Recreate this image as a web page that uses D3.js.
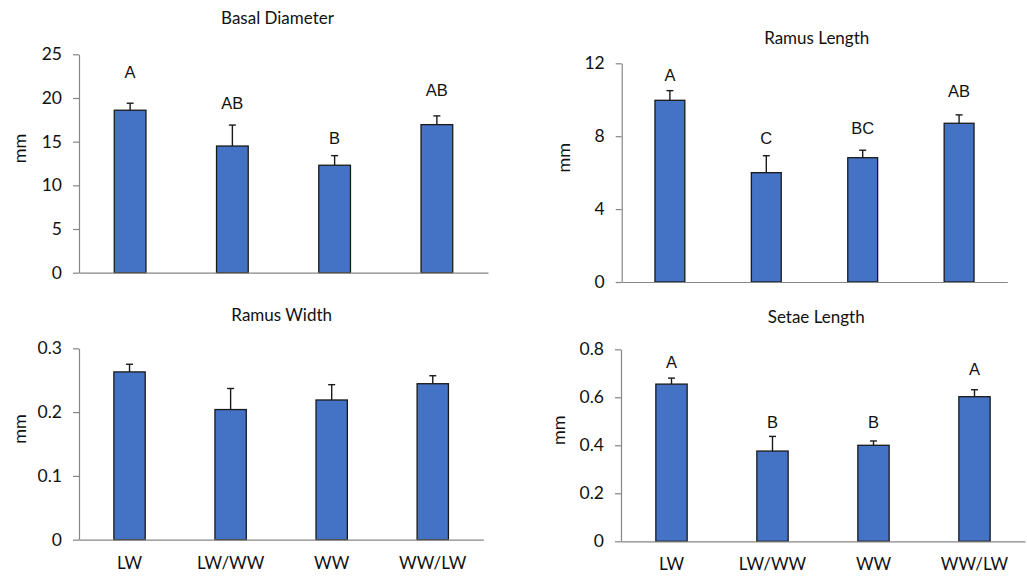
<!DOCTYPE html>
<html><head><meta charset="utf-8">
<script src="https://cdn.jsdelivr.net/npm/d3@7"></script>
<style>
html,body{margin:0;padding:0;background:#fff;}
</style></head>
<body>
<svg id="chart" width="1027" height="576"></svg>
<script>
// ---- data ----
const categories = ["LW", "LW/WW", "WW", "WW/LW"];

const basalMean = [18.6, 14.5, 12.3, 16.95];
const basalSE = [0.8, 2.4, 1.1, 1.0];
const basalLetters = ["A", "AB", "B", "AB"];
const basalLetterY = [23.0, 19.4, 15.45, 20.9];
const basalTicks = [0, 5, 10, 15, 20, 25];

const ramusLenMean = [9.97, 6.0, 6.82, 8.71];
const ramusLenSE = [0.53, 0.93, 0.41, 0.46];
const ramusLenLetters = ["A", "C", "BC", "AB"];
const ramusLenLetterY = [11.36, 7.92, 8.47, 10.45];
const ramusLenTicks = [0, 4, 8, 12];

const ramusWidMean = [0.263, 0.204, 0.219, 0.2445];
const ramusWidSE = [0.012, 0.033, 0.024, 0.0125];
const ramusWidTicks = [0, 0.1, 0.2, 0.3];

const setaeMean = [0.655, 0.376, 0.40, 0.6025];
const setaeSE = [0.025, 0.061, 0.018, 0.029];
const setaeLetters = ["A", "B", "B", "A"];
const setaeLetterY = [0.748, 0.496, 0.496, 0.717];
const setaeTicks = [0, 0.2, 0.4, 0.6, 0.8];

const titles = ["Basal Diameter", "Ramus Length", "Ramus Width", "Setae Length"];

// ---- layout ----
const panels = [
  {title: titles[0], mean: basalMean, se: basalSE, letters: basalLetters, letterY: basalLetterY, ticks: basalTicks,
   max: 25, fmt: d3.format("d"), x0: 79, x1: 488, yTop: 54.3, yBot: 272.7, titleX: 277.5, titleY: 18, mmX: 20, showCats: false},
  {title: titles[1], mean: ramusLenMean, se: ramusLenSE, letters: ramusLenLetters, letterY: ramusLenLetterY, ticks: ramusLenTicks,
   max: 12, fmt: d3.format("d"), x0: 621.7, x1: 1007.3, yTop: 63.3, yBot: 282, titleX: 816.7, titleY: 38.3, mmX: 563.5, showCats: false},
  {title: titles[2], mean: ramusWidMean, se: ramusWidSE, letters: null, letterY: null, ticks: ramusWidTicks,
   max: 0.3, fmt: d => d === 0 ? "0" : d3.format(".1f")(d), x0: 79, x1: 483.3, yTop: 348.3, yBot: 539.7, titleX: 281.7, titleY: 315, mmX: 20, showCats: true},
  {title: titles[3], mean: setaeMean, se: setaeSE, letters: setaeLetters, letterY: setaeLetterY, ticks: setaeTicks,
   max: 0.8, fmt: d => d === 0 ? "0" : d3.format(".1f")(d), x0: 621, x1: 1025, yTop: 349.3, yBot: 541.3, titleX: 816.2, titleY: 316.7, mmX: 558.5, showCats: true}
];

const svg = d3.select("#chart");
const barColor = "#4472C4";
const axisColor = "#868686";
const uiFont = "Lato, 'Open Sans', sans-serif";
const letterFont = "'Liberation Sans', Arial, sans-serif";

panels.forEach(p => {
  const g = svg.append("g");
  const x = d3.scaleBand().domain(categories).range([p.x0, p.x1]).paddingInner(0.69).paddingOuter(0.345);
  const y = d3.scaleLinear().domain([0, p.max]).range([p.yBot, p.yTop]);

  // y axis
  const yAxis = d3.axisLeft(y).tickValues(p.ticks).tickFormat(p.fmt).tickSizeOuter(0).tickSizeInner(6).tickPadding(11);
  const ya = g.append("g").attr("transform", `translate(${p.x0},0)`).call(yAxis);
  ya.attr("font-family", null).attr("font-size", null);
  ya.select(".domain").attr("stroke", axisColor).attr("stroke-width", 1.2);
  ya.selectAll(".tick line").attr("stroke", axisColor).attr("stroke-width", 1.2);
  ya.selectAll(".tick text").style("font-family", uiFont).style("font-size", "17.5px").attr("fill", "#111");

  // bars
  g.selectAll("rect.bar").data(p.mean).join("rect")
    .attr("class", "bar")
    .attr("x", (d, i) => x(categories[i]))
    .attr("width", x.bandwidth())
    .attr("y", d => y(d))
    .attr("height", d => y(0) - y(d))
    .attr("fill", barColor).attr("stroke", "#1a1a1a").attr("stroke-width", 1.3);

  // error bars
  const eb = g.selectAll("g.err").data(p.mean).join("g").attr("class", "err");
  eb.append("line")
    .attr("x1", (d, i) => x(categories[i]) + x.bandwidth() / 2)
    .attr("x2", (d, i) => x(categories[i]) + x.bandwidth() / 2)
    .attr("y1", d => y(d))
    .attr("y2", (d, i) => y(d + p.se[i]))
    .attr("stroke", "#1a1a1a").attr("stroke-width", 1.4);
  eb.append("line")
    .attr("x1", (d, i) => x(categories[i]) + x.bandwidth() / 2 - 3.5)
    .attr("x2", (d, i) => x(categories[i]) + x.bandwidth() / 2 + 3.5)
    .attr("y1", (d, i) => y(d + p.se[i]))
    .attr("y2", (d, i) => y(d + p.se[i]))
    .attr("stroke", "#1a1a1a").attr("stroke-width", 1.4);

  // x axis line
  const xAxis = d3.axisBottom(x).tickSize(0).tickPadding(17).tickSizeOuter(0);
  const xa = g.append("g").attr("transform", `translate(0,${p.yBot})`).call(xAxis);
  xa.attr("font-family", null).attr("font-size", null);
  xa.select(".domain").attr("stroke", axisColor).attr("stroke-width", 1.2);
  if (p.showCats) {
    xa.selectAll(".tick text").style("font-family", uiFont).style("font-size", "17px").attr("fill", "#111");
  } else {
    xa.selectAll(".tick text").remove();
  }

  // significance letters
  if (p.letters) {
    g.selectAll("text.letter").data(p.letters).join("text")
      .attr("class", "letter")
      .attr("x", (d, i) => x(categories[i]) + x.bandwidth() / 2)
      .attr("y", (d, i) => y(p.letterY[i]))
      .attr("dy", "0.36em")
      .attr("text-anchor", "middle")
      .style("font-family", letterFont)
      .style("font-size", "16.5px")
      .attr("fill", "#111")
      .text(d => d);
  }

  // title
  g.append("text")
    .attr("x", p.titleX)
    .attr("y", p.titleY).attr("dy", "0.35em")
    .attr("text-anchor", "middle")
    .style("font-family", uiFont).style("font-size", "17px")
    .attr("fill", "#111")
    .text(p.title);

  // y label
  g.append("text")
    .attr("transform", `translate(${p.mmX},${(p.yTop + p.yBot) / 2 - 15}) rotate(-90)`)
    .attr("dy", "0.35em")
    .attr("text-anchor", "middle")
    .style("font-family", uiFont).style("font-size", "18px")
    .attr("fill", "#111")
    .text("mm");
});
</script>
</body></html>
